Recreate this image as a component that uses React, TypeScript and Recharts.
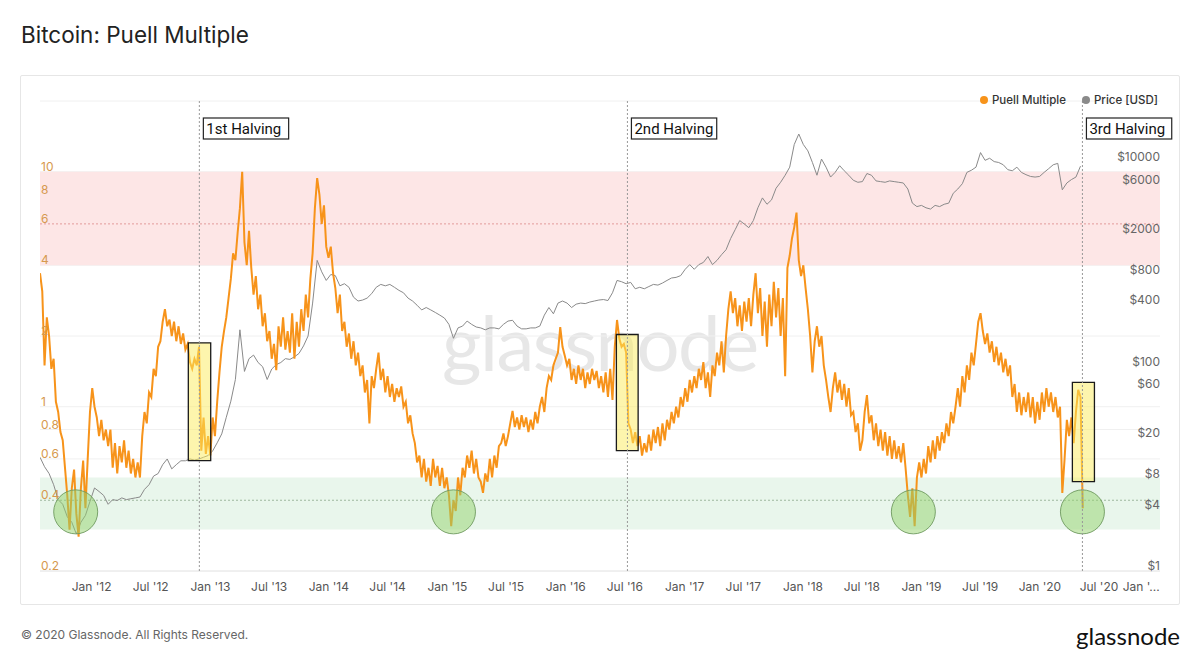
import React from 'react';
import { LineChart, Line, XAxis, YAxis, CartesianGrid, ReferenceArea, ReferenceLine, ReferenceDot } from 'recharts';

const DAY = 86400000;
const ts = (d: string) => Date.parse(d + 'T00:00:00Z');

const seriesStart = '2011-07-26';

// weekly Puell Multiple, grouped by calendar year
const puell2011 = [3.7, 3.1, 1.5, 2.4, 2.0, 1.45, 1.6, 1.05, 0.95, 0.78, 0.72, 0.55, 0.42, 0.3, 0.45, 0.54, 0.35, 0.28, 0.45, 0.59, 0.37, 0.6, 0.95];
const puell2012 = [1.2, 1.0, 0.9, 0.75, 0.88, 0.72, 0.8, 0.68, 0.8, 0.55, 0.7, 0.52, 0.68, 0.58, 0.72, 0.55, 0.65, 0.52, 0.6, 0.5, 0.58, 0.5, 0.75, 0.95, 0.85, 1.15, 1.1, 1.45, 1.35, 1.8, 1.9, 2.3, 2.6, 2.2, 2.35, 2.0, 2.3, 1.9, 2.2, 1.85, 2.05, 1.75, 1.85, 1.55, 1.45, 1.6, 1.5, 1.8, 0.65, 0.9, 0.63, 0.75];
const puell2013 = [0.62, 0.9, 0.75, 1.05, 1.4, 1.8, 2.1, 2.4, 2.9, 3.5, 4.5, 4.2, 5.5, 7.0, 10.0, 5.0, 4.0, 5.6, 3.9, 3.0, 3.6, 2.6, 3.0, 2.2, 2.5, 1.9, 2.1, 1.6, 1.85, 1.43, 2.2, 1.8, 2.4, 1.75, 2.1, 1.7, 2.5, 1.6, 2.3, 1.8, 2.6, 2.1, 3.0, 2.4, 3.5, 4.5, 7.0, 9.4, 8.0, 6.0, 7.2, 4.8, 4.3];
const puell2014 = [4.8, 3.7, 3.2, 2.5, 3.0, 2.1, 2.3, 1.8, 2.05, 1.6, 1.9, 1.5, 1.7, 1.35, 1.5, 1.15, 1.3, 0.85, 1.35, 1.2, 1.45, 1.7, 1.3, 1.45, 1.15, 1.35, 1.1, 1.25, 1.05, 1.2, 1.1, 1.22, 1.0, 1.05, 0.85, 0.92, 0.77, 0.7, 0.58, 0.62, 0.5, 0.6, 0.48, 0.55, 0.46, 0.6, 0.5, 0.56, 0.46, 0.55, 0.45, 0.5];
const puell2015 = [0.42, 0.31, 0.4, 0.36, 0.5, 0.42, 0.55, 0.5, 0.62, 0.55, 0.65, 0.52, 0.6, 0.5, 0.48, 0.43, 0.52, 0.48, 0.6, 0.5, 0.62, 0.55, 0.68, 0.7, 0.77, 0.68, 0.75, 0.85, 0.96, 0.82, 0.9, 0.8, 0.92, 0.82, 0.9, 0.78, 0.88, 0.8, 0.95, 0.85, 1.0, 1.1, 0.95, 1.2, 1.35, 1.3, 1.5, 1.6, 1.7, 2.18, 1.8, 1.65];
const puell2016 = [1.5, 1.6, 1.3, 1.45, 1.25, 1.5, 1.3, 1.45, 1.2, 1.4, 1.25, 1.45, 1.3, 1.42, 1.2, 1.35, 1.15, 1.4, 1.1, 1.45, 1.07, 1.8, 2.34, 1.95, 1.8, 1.85, 1.7, 0.85, 0.8, 0.7, 0.78, 0.68, 0.75, 0.62, 0.7, 0.64, 0.76, 0.65, 0.8, 0.7, 0.82, 0.68, 0.85, 0.72, 0.88, 0.8, 0.95, 0.85, 1.0, 0.9, 1.1, 1.0];
const puell2017 = [1.2, 1.05, 1.3, 1.15, 1.35, 1.2, 1.45, 1.3, 1.55, 1.2, 1.4, 1.1, 1.5, 1.35, 1.7, 1.5, 1.9, 1.4, 2.0, 2.6, 3.1, 2.5, 2.9, 2.2, 2.7, 2.1, 2.8, 2.3, 2.9, 2.2, 3.0, 3.7, 2.5, 3.2, 2.0, 2.8, 1.8, 3.0, 2.2, 3.4, 2.4, 3.2, 2.0, 2.9, 1.35, 3.9, 4.4, 5.2, 5.8, 6.7, 4.2, 3.6];
const puell2018 = [4.0, 3.2, 2.6, 2.0, 1.4, 1.9, 2.2, 1.8, 2.0, 1.5, 1.3, 1.1, 0.95, 1.2, 1.4, 1.15, 1.3, 1.07, 1.25, 1.0, 1.2, 0.92, 0.95, 0.78, 0.85, 0.65, 0.72, 0.95, 1.12, 0.85, 0.92, 0.72, 0.85, 0.68, 0.8, 0.65, 0.78, 0.62, 0.75, 0.6, 0.72, 0.6, 0.68, 0.58, 0.7, 0.55, 0.42, 0.34, 0.45, 0.31, 0.5, 0.58];
const puell2019 = [0.5, 0.6, 0.52, 0.68, 0.58, 0.72, 0.6, 0.75, 0.65, 0.78, 0.7, 0.85, 0.75, 0.95, 0.85, 1.0, 1.2, 1.0, 1.35, 1.15, 1.5, 1.3, 1.7, 1.5, 1.85, 2.3, 2.5, 2.1, 1.85, 2.05, 1.7, 1.9, 1.55, 1.8, 1.5, 1.7, 1.4, 1.6, 1.35, 1.5, 1.1, 1.25, 0.95, 1.15, 0.92, 1.1, 0.95, 1.15, 0.9, 1.1, 0.85, 1.05, 0.88];
const puell2020 = [1.15, 0.95, 1.2, 1.0, 1.15, 0.95, 1.1, 0.9, 1.0, 0.43, 0.6, 0.88, 0.75, 0.9, 0.7, 0.95, 1.18, 1.1, 0.37];

// bi-weekly BTC price in USD, grouped by calendar year
const price2011 = [13, 10.5, 9, 7, 5, 4.5, 3.4, 3.0, 2.3, 3.0, 3.5, 4.8];
const price2012 = [6.5, 6, 5.5, 4.5, 5.0, 4.9, 5.2, 5.0, 5.1, 5.2, 5.3, 6.3, 7.0, 8.5, 9.0, 11, 12.5, 10, 11, 12, 12, 12.5, 12.2, 12.5, 13, 13.5];
const price2013 = [15, 18, 22, 32, 46, 75, 230, 90, 120, 130, 110, 100, 75, 95, 105, 110, 120, 118, 125, 135, 160, 200, 420, 1100, 850, 700];
const price2014 = [800, 780, 620, 650, 600, 480, 440, 450, 470, 520, 600, 640, 620, 640, 600, 560, 530, 470, 440, 400, 360, 380, 360, 340, 320, 300];
const price2015 = [260, 190, 240, 250, 280, 260, 245, 240, 230, 240, 240, 235, 260, 280, 285, 250, 235, 235, 240, 240, 250, 320, 380, 330, 420, 440];
const price2016 = [420, 380, 410, 420, 415, 430, 440, 450, 455, 445, 530, 700, 680, 650, 670, 580, 600, 580, 610, 640, 630, 660, 700, 740, 750, 780];
const price2017 = [900, 1000, 900, 1000, 1050, 1200, 1000, 1100, 1250, 1400, 1800, 2200, 2700, 2500, 2300, 2700, 3600, 4500, 3900, 4300, 5600, 6400, 7500, 9000, 15000, 19000];
const price2018 = [15000, 13000, 10000, 7500, 10800, 9000, 7200, 8000, 9300, 8300, 7500, 6700, 6400, 6500, 7800, 7500, 6600, 6500, 6400, 6600, 6500, 6400, 6300, 5500, 4000, 3700];
const price2019 = [3800, 3600, 3500, 3800, 3700, 3900, 4000, 5000, 5500, 6200, 8000, 8400, 9000, 12500, 10500, 11000, 10200, 10000, 9500, 8500, 8300, 9000, 8000, 7600, 7300, 7200, 7300];
const price2020 = [8000, 8700, 9500, 9800, 5400, 6300, 6800, 7200, 9200];

const xDomain = ['2011-07-26', '2021-01-05'];
const xTickDates = [
  '2012-01-01', '2012-07-01', '2013-01-01', '2013-07-01', '2014-01-01', '2014-07-01', '2015-01-01', '2015-07-01',
  '2016-01-01', '2016-07-01', '2017-01-01', '2017-07-01', '2018-01-01', '2018-07-01', '2019-01-01', '2019-07-01',
  '2020-01-01', '2020-07-01', '2021-01-01',
];
const puellDomain = [0.2, 20];
const puellTicks = [0.2, 0.4, 0.6, 0.8, 1, 2, 4, 6, 8, 10, 20];
const priceDomain = [1, 40000];
const priceTicks = [1, 4, 8, 20, 60, 100, 400, 800, 2000, 6000, 10000];

const sellZone = [4, 10];
const sellLine = 6;
const buyZone = [0.3, 0.5];
const buyLine = 0.4;

const halvings = [
  { date: '2012-11-28', label: '1st Halving' },
  { date: '2016-07-09', label: '2nd Halving' },
  { date: '2020-05-11', label: '3rd Halving' },
];
const boxes = [
  { from: '2012-10-25', to: '2013-01-02', low: 0.59, high: 1.87 },
  { from: '2016-06-05', to: '2016-08-11', low: 0.65, high: 2.03 },
  { from: '2020-04-10', to: '2020-06-17', low: 0.48, high: 1.27 },
];
const bottoms = [
  { date: '2011-11-13', value: 0.357 },
  { date: '2015-01-20', value: 0.357 },
  { date: '2018-12-07', value: 0.357 },
  { date: '2020-05-11', value: 0.357 },
];

const puellWeekly = [...puell2011, ...puell2012, ...puell2013, ...puell2014, ...puell2015, ...puell2016, ...puell2017, ...puell2018, ...puell2019, ...puell2020];
const priceBiweekly = [...price2011, ...price2012, ...price2013, ...price2014, ...price2015, ...price2016, ...price2017, ...price2018, ...price2019, ...price2020];

const puellData = puellWeekly.map((v, i) => ({ t: ts(seriesStart) + i * 7 * DAY, puell: v }));
const priceData = priceBiweekly.map((v, i) => ({ t: ts(seriesStart) + i * 14 * DAY, price: v }));

const ORANGE = '#f7931a';
const GREY = '#8a8a8a';
const FONT = 'Inter, "Noto Sans", sans-serif';

const lastTick = ts(xTickDates[xTickDates.length - 1]);

const DateTick = (props: any) => {
  const { x, y, payload } = props;
  const d = new Date(payload.value);
  const mon = d.getUTCMonth() === 0 ? 'Jan' : 'Jul';
  const isLast = payload.value >= lastTick;
  const label = isLast ? `${mon} '...` : `${mon} '${String(d.getUTCFullYear()).slice(2)}`;
  return (
    <text x={isLast ? x + 1 : x} y={y + 12} textAnchor={isLast ? 'end' : 'middle'} fill="#555" fontSize={12} fontFamily={FONT}>
      {label}
    </text>
  );
};

const PuellTick = (props: any) => {
  const { x, y, payload } = props;
  if (payload.value >= 20) return <g />;
  return (
    <text x={x} y={y - 1} textAnchor="start" fill="#d6994e" fontSize={12} fontFamily={FONT}>
      {payload.value}
    </text>
  );
};

const PriceTick = (props: any) => {
  const { x, y, payload } = props;
  return (
    <text x={x} y={y - 1} textAnchor="end" fill="#666" fontSize={12} fontFamily={FONT}>
      ${payload.value}
    </text>
  );
};

const HalvingLabel = (props: any) => {
  const { viewBox, text } = props;
  const top = Math.min(viewBox.y, viewBox.y + viewBox.height);
  const w = 5 + text.length * 7.3;
  return (
    <g>
      <rect x={viewBox.x + 4} y={top + 17} width={w} height={21} fill="#fff" stroke="#222" strokeWidth={1.2} />
      <text x={viewBox.x + 7} y={top + 33} fill="#111" fontSize={15} fontFamily='Roboto, "Liberation Sans", sans-serif'>
        {text}
      </text>
    </g>
  );
};

export default function App() {
  return (
    <div style={{ position: 'absolute', left: 0, top: 0, width: 1200, height: 667, background: '#fff', fontFamily: FONT, overflow: 'hidden' }}>
      <div style={{ position: 'absolute', left: 21, top: 21, fontSize: 22.5, lineHeight: '28px', color: '#222' }}>Bitcoin: Puell Multiple</div>
      <div style={{ position: 'absolute', left: 20, top: 75, width: 1158, height: 528, border: '1px solid #e6e6e6', borderRadius: 2 }} />
      <div style={{ position: 'absolute', left: 442, top: 296, fontSize: 76, color: '#e7e7e7', fontFamily: 'Lato, sans-serif', letterSpacing: -1.5 }}>glassnode</div>
      <div style={{ position: 'absolute', left: 0, top: 0 }}>
        <LineChart width={1200} height={667} margin={{ top: 101, right: 40, bottom: 66, left: 40 }}>
          <CartesianGrid yAxisId="left" vertical={false} stroke="#f0f0f0" />
          <ReferenceArea yAxisId="left" y1={sellZone[0]} y2={sellZone[1]} fill="#fde6e6" fillOpacity={1} stroke="none" zIndex={-50} />
          <ReferenceArea yAxisId="left" y1={buyZone[0]} y2={buyZone[1]} fill="#e9f6ec" fillOpacity={1} stroke="none" zIndex={-50} />
          <ReferenceLine yAxisId="left" y={sellLine} stroke="#e39a9a" strokeDasharray="2 2" zIndex={-40} />
          <ReferenceLine yAxisId="left" y={buyLine} stroke="#9fb89f" strokeDasharray="2 2" zIndex={-40} />
          <XAxis dataKey="t" type="number" domain={xDomain.map(ts)} allowDataOverflow ticks={xTickDates.map(ts)} interval={0}
            tick={<DateTick />} tickLine={false} axisLine={{ stroke: '#e8e8e8' }} height={30} />
          <YAxis yAxisId="left" type="number" scale="log" domain={puellDomain} allowDataOverflow ticks={puellTicks} interval={0}
            mirror axisLine={false} tickLine={false} tickSize={0} tickMargin={1} tick={<PuellTick />} />
          <YAxis yAxisId="right" orientation="right" type="number" scale="log" domain={priceDomain} allowDataOverflow ticks={priceTicks} interval={0}
            mirror axisLine={false} tickLine={false} tickSize={0} tickMargin={0} tick={<PriceTick />} />
          <Line data={priceData} yAxisId="right" dataKey="price" type="linear" stroke={GREY} strokeWidth={1} dot={false} isAnimationActive={false} />
          <Line data={puellData} yAxisId="left" dataKey="puell" type="linear" stroke={ORANGE} strokeWidth={2} dot={false} isAnimationActive={false} />
          {boxes.map((b) => (
            <ReferenceArea key={b.from} yAxisId="left" x1={ts(b.from)} x2={ts(b.to)} y1={b.low} y2={b.high}
              fill="#fbeb5b" fillOpacity={0.5} stroke="#1a1a1a" strokeWidth={1.3} zIndex={600} />
          ))}
          {bottoms.map((b) => (
            <ReferenceDot key={b.date} yAxisId="left" x={ts(b.date)} y={b.value} r={22}
              fill="#93d16c" fillOpacity={0.5} stroke="#6f9a5f" strokeOpacity={0.9} zIndex={600} />
          ))}
          {halvings.map((h) => (
            <ReferenceLine key={h.date} yAxisId="left" x={ts(h.date)} stroke="#999" strokeDasharray="2 2" zIndex={700}
              label={<HalvingLabel text={h.label} />} />
          ))}
        </LineChart>
      </div>
      <div style={{ position: 'absolute', right: 42, top: 93, display: 'flex', alignItems: 'center', fontSize: 11.5, fontWeight: 500, color: '#333' }}>
        <span style={{ width: 8, height: 8, borderRadius: 4, background: ORANGE, marginRight: 4 }} />
        <span style={{ marginRight: 16 }}>Puell Multiple</span>
        <span style={{ width: 8, height: 8, borderRadius: 4, background: GREY, marginRight: 4 }} />
        <span>Price [USD]</span>
      </div>
      <div style={{ position: 'absolute', left: 21, top: 627, fontSize: 12, color: '#666' }}>© 2020 Glassnode. All Rights Reserved.</div>
      <div style={{ position: 'absolute', right: 20, top: 621, fontSize: 24, color: '#111', fontFamily: 'Lato, sans-serif' }}>glassnode</div>
    </div>
  );
}
